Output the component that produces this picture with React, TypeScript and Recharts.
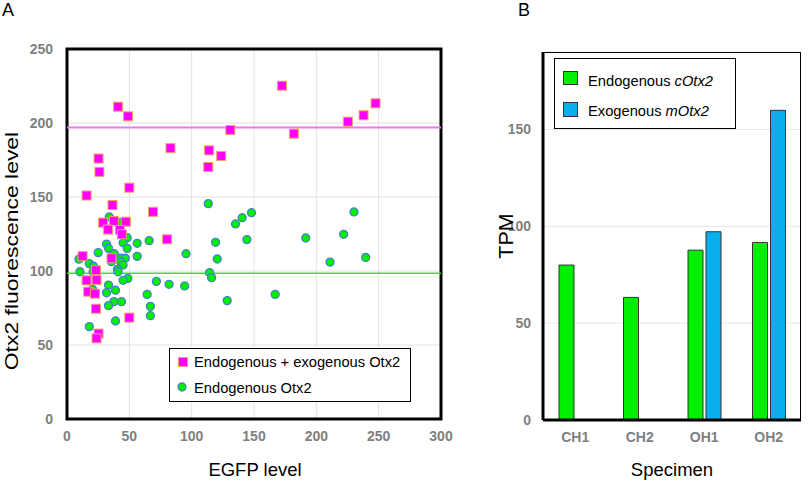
import React from 'react';
import { ScatterChart, Scatter, XAxis, YAxis, CartesianGrid, ReferenceLine, ReferenceArea, BarChart, Bar } from 'recharts';

const FONT = '"Liberation Sans", Arial, Helvetica, sans-serif';

// panel A: cells with endogenous + exogenous Otx2 (EGFP level, Otx2 level)
const mixedPoints: [number, number][] = [
  [41, 211], [49, 204.5], [83, 183], [25.3, 176], [26, 167], [50, 156.3], [15.7, 151],
  [36.5, 144.6], [69, 140], [29, 132.7], [37.6, 133.8], [47.2, 133.3], [33, 128],
  [42.4, 127.7], [44, 124.8], [80.3, 121.4], [12.5, 110], [35.7, 108.6], [23.2, 100.5],
  [15.7, 93.7], [23.7, 94], [17, 86], [22.4, 84.7], [23.2, 74.5], [50, 68.5], [25.3, 57.7],
  [23.7, 54.5], [172.5, 225.2], [131, 195.3], [182, 192.8], [114, 181.5], [123.7, 177.7],
  [113.3, 170.3], [225.3, 200.9], [237.9, 205.2], [247.5, 213.3],
];

// panel A: cells with endogenous Otx2 only
const endoPoints: [number, number][] = [
  [33.9, 136.5], [43.7, 132.9], [48.3, 122.5], [45, 119.1], [56.3, 118.7], [65.9, 120.5],
  [31.7, 118.2], [33.3, 115.3], [48.3, 115.3], [25, 112.4], [37.9, 111.7], [56.3, 109.9],
  [9.6, 108], [43.2, 108.6], [46.7, 108.6], [35.7, 106.3], [43.2, 106], [17.9, 105],
  [21.3, 103.2], [45, 104], [40.5, 101.1], [41, 99.5], [10.4, 99.5], [21, 99.5], [48.8, 95],
  [45, 93.7], [71.7, 93], [81.9, 91], [33.3, 90.5], [20.5, 87.6], [31.7, 85.3], [38.9, 87],
  [64.3, 84.2], [37.6, 79.3], [43.7, 79.3], [33.3, 76.6], [66.9, 76.1], [66.9, 69.8],
  [38.9, 66.2], [17.9, 62.4], [113.3, 145.5], [148, 139.4], [140.5, 136], [135.2, 131.8],
  [119.2, 119.4], [144.3, 121.2], [191.5, 122.3], [95.5, 111.7], [120.5, 108.1],
  [114.4, 98.9], [116, 95.5], [94.4, 89.9], [128.5, 80], [167, 84.2], [230.2, 139.9],
  [221.9, 124.8], [211, 106], [239.6, 109.2],
];

const mixedMean = 197;
const endoMean = 98.5;
const egfpTicks = [0, 50, 100, 150, 200, 250, 300];
const otx2Ticks = [0, 50, 100, 150, 200, 250];

// panel B
const specimens = ['CH1', 'CH2', 'OH1', 'OH2'];
const endoTpm = [80, 63.3, 87.7, 91.7];
const exoTpm: (number | null)[] = [null, null, 97.2, 159.9];
const tpmTicks = [0, 50, 100, 150];

const tickStyle = { fill: '#7f7f7f', fontSize: 14, fontWeight: 'bold', fontFamily: FONT };

const SquareDot = (props: any) => {
  const { cx, cy } = props;
  return <rect x={cx - 4.5} y={cy - 4.5} width={9} height={9} fill="#ff00ff" stroke="#f4a06a" strokeWidth={1} />;
};

const RoundDot = (props: any) => {
  const { cx, cy } = props;
  return <circle cx={cx} cy={cy} r={4} fill="#00ee00" stroke="#4a7fd4" strokeWidth={1.3} />;
};

const abs = (s: React.CSSProperties): React.CSSProperties => ({ position: 'absolute', fontFamily: FONT, color: '#000', whiteSpace: 'nowrap', ...s });

export default function App() {
  const mixed = mixedPoints.map(([x, y]) => ({ x, y }));
  const endo = endoPoints.map(([x, y]) => ({ x, y }));
  const rows = specimens.map((s, i) => ({ specimen: s, endo: endoTpm[i], exo: exoTpm[i] }));

  return (
    <div style={{ position: 'absolute', left: 0, top: 0, width: 809, height: 492, background: '#fff', overflow: 'hidden' }}>
      <div style={{ position: 'absolute', left: 0, top: 0 }}>
        <ScatterChart width={460} height={492} margin={{ top: 49, right: 19, left: 0, bottom: 43 }}>
          <CartesianGrid stroke="#e2e2e2" />
          <XAxis type="number" dataKey="x" domain={[0, 300]} ticks={egfpTicks} height={30}
            axisLine={false} tickLine={false} tickSize={0} tickMargin={12} tick={tickStyle} />
          <YAxis type="number" dataKey="y" domain={[0, 250]} ticks={otx2Ticks} width={67}
            axisLine={false} tickLine={false} tickSize={0} tickMargin={14} tick={tickStyle} />
          <ReferenceLine y={mixedMean} stroke="#ee77ee" strokeWidth={2} />
          <ReferenceLine y={endoMean} stroke="#44dd33" strokeWidth={1.5} />
          <Scatter data={endo} shape={RoundDot} isAnimationActive={false} />
          <Scatter data={mixed} shape={SquareDot} isAnimationActive={false} />
          <ReferenceArea x1={0} x2={300} y1={0} y2={250} fill="none" fillOpacity={0} stroke="#000" strokeWidth={3} />
        </ScatterChart>
      </div>

      <div style={{ position: 'absolute', left: 470, top: 0 }}>
        <BarChart width={339} height={492} data={rows} margin={{ top: 52, right: 8, left: 0, bottom: 42 }} barSize={15} barGap={3}>
          <CartesianGrid vertical={false} stroke="#e8e8e8" />
          <XAxis dataKey="specimen" height={30} axisLine={{ stroke: '#000', strokeWidth: 3 }}
            tickLine={false} tickSize={0} tickMargin={12} tick={tickStyle} />
          <YAxis domain={[0, 190]} ticks={tpmTicks} width={73} axisLine={{ stroke: '#000', strokeWidth: 3 }}
            tickLine={false} tickSize={0} tickMargin={12} tick={tickStyle} />
          <Bar dataKey="endo" fill="#00ee00" stroke="#333" strokeWidth={1} isAnimationActive={false} />
          <Bar dataKey="exo" fill="#0aaeec" stroke="#333" strokeWidth={1} isAnimationActive={false} />
        </BarChart>
      </div>
      <div style={{ position: 'absolute', left: 543, top: 52, width: 258, height: 368, borderTop: '1px solid #000', borderRight: '1px solid #000', boxSizing: 'border-box', pointerEvents: 'none' }} />

      {/* panel letters and axis titles */}
      <div style={abs({ left: 2, top: 0, fontSize: 18, lineHeight: '20px' })}>A</div>
      <div style={abs({ left: 518, top: 0, fontSize: 18, lineHeight: '20px' })}>B</div>
      <div style={abs({ left: 12, top: 251, fontSize: 18.5, lineHeight: '22px', transform: 'translate(-50%, -50%) rotate(-90deg) scaleX(1.24)' })}>Otx2 fluorescence level</div>
      <div style={abs({ left: 255, top: 470, fontSize: 18.5, lineHeight: '22px', transform: 'translate(-50%, -50%)' })}>EGFP level</div>
      <div style={abs({ left: 506, top: 236, fontSize: 19.5, lineHeight: '22px', transform: 'translate(-50%, -50%) rotate(-90deg) scaleX(1.1)' })}>TPM</div>
      <div style={abs({ left: 672, top: 470, fontSize: 18.5, lineHeight: '22px', transform: 'translate(-50%, -50%)' })}>Specimen</div>

      {/* legend A */}
      <div style={abs({ left: 169, top: 348, width: 242, height: 54, border: '1.3px solid #000', background: '#fff', boxSizing: 'border-box', fontSize: 14.7 })}>
        <svg width={12} height={12} style={{ position: 'absolute', left: 7, top: 7 }}>
          <rect x={1.5} y={1.5} width={9} height={9} fill="#ff00ff" stroke="#f4a06a" strokeWidth={1} />
        </svg>
        <div style={{ position: 'absolute', left: 24, top: 4, lineHeight: '18px' }}>Endogenous + exogenous Otx2</div>
        <svg width={12} height={12} style={{ position: 'absolute', left: 6, top: 32 }}>
          <circle cx={6} cy={6} r={4} fill="#00ee00" stroke="#4a7fd4" strokeWidth={1.3} />
        </svg>
        <div style={{ position: 'absolute', left: 24, top: 30, lineHeight: '18px' }}>Endogenous Otx2</div>
      </div>

      {/* legend B */}
      <div style={abs({ left: 554, top: 58, width: 182, height: 71, border: '1.3px solid #000', background: '#fff', boxSizing: 'border-box', fontSize: 14.7 })}>
        <div style={{ position: 'absolute', left: 8, top: 12, width: 15, height: 14, background: '#00ee00', border: '1px solid #333', boxSizing: 'border-box' }} />
        <div style={{ position: 'absolute', left: 33, top: 13, lineHeight: '18px' }}>Endogenous <i>cOtx2</i></div>
        <div style={{ position: 'absolute', left: 8, top: 43, width: 15, height: 15, background: '#0aaeec', border: '1px solid #333', boxSizing: 'border-box' }} />
        <div style={{ position: 'absolute', left: 33, top: 43, lineHeight: '18px' }}>Exogenous <i>mOtx2</i></div>
      </div>
    </div>
  );
}
